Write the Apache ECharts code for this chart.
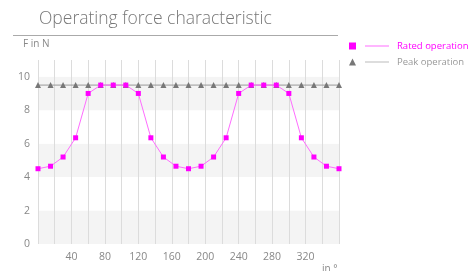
<!DOCTYPE html>
<html>
<head>
<meta charset="utf-8">
<script src="https://cdn.jsdelivr.net/npm/echarts@6/dist/echarts.min.js"></script>
<style>
  html, body { margin: 0; padding: 0; background: #fff; }
  #chart { width: 472px; height: 271px; }
</style>
</head>
<body>
<div id="chart"></div>
<script>
// angle in degrees, every 15
var angles = [0, 15, 30, 45, 60, 75, 90, 105, 120, 135, 150, 165, 180,
  195, 210, 225, 240, 255, 270, 285, 300, 315, 330, 345, 360];
var rated = [4.5, 4.65, 5.2, 6.35, 9.0, 9.5, 9.5, 9.5, 9.0, 6.35, 5.2, 4.65, 4.5,
  4.65, 5.2, 6.35, 9.0, 9.5, 9.5, 9.5, 9.0, 6.35, 5.2, 4.65, 4.5];
var peak = [9.5, 9.5, 9.5, 9.5, 9.5, 9.5, 9.5, 9.5, 9.5, 9.5, 9.5, 9.5, 9.5,
  9.5, 9.5, 9.5, 9.5, 9.5, 9.5, 9.5, 9.5, 9.5, 9.5, 9.5, 9.5];
var seriesNames = ["Rated operation", "Peak operation"];

var font = "'Open Sans', sans-serif";
var magenta = "#ff00ff";

function pairs(vals) {
  return angles.map(function (a, i) { return [a, vals[i]]; });
}

var chart = echarts.init(document.getElementById("chart"));
chart.setOption({
  animation: false,
  textStyle: { fontFamily: font },
  grid: { left: 38, right: 133, top: 60, bottom: 27 },
  xAxis: {
    type: "value",
    min: 0,
    max: 360,
    interval: 20,
    axisLine: { show: false },
    axisTick: { show: false },
    axisLabel: {
      color: "#888",
      fontSize: 10.5,
      margin: 8,
      formatter: function (v) {
        return v % 40 === 0 && v > 0 && v < 360 ? String(v) : "";
      }
    },
    splitLine: { show: true, lineStyle: { color: "#dcdcdc", width: 1 } }
  },
  yAxis: {
    type: "value",
    min: 0,
    max: 11,
    interval: 2,
    axisLine: { show: false },
    axisTick: { show: false },
    axisLabel: { color: "#888", fontSize: 10.5, margin: 8, showMaxLabel: false },
    splitLine: { show: false },
    splitArea: { show: true, areaStyle: { color: ["#f4f4f4", "#ffffff"] } }
  },
  legend: {
    left: 349,
    top: 40,
    padding: 0,
    orient: "vertical",
    itemGap: 4,
    itemWidth: 7,
    itemHeight: 7,
    data: [
      { name: seriesNames[0], icon: "rect" },
      { name: seriesNames[1], icon: "triangle" }
    ],
    formatter: function (name) {
      if (name === seriesNames[0]) return "{gap|}{lnA|}{gap2|}{tA|" + name + "}";
      return "{gap|}{lnB|}{gap2|}{tB|" + name + "}";
    },
    textStyle: {
      fontSize: 9.5,
      lineHeight: 12,
      rich: {
        gap: { width: 4 },
        gap2: { width: 8 },
        lnA: { width: 24, height: 1, backgroundColor: "#ff6cff" },
        lnB: { width: 24, height: 1, backgroundColor: "#bbb" },
        tA: { color: magenta, fontSize: 9.5, fontFamily: font },
        tB: { color: "#999", fontSize: 9.5, fontFamily: font }
      }
    }
  },
  graphic: [
    {
      type: "text", left: 39, top: 10,
      style: { text: "Operating force characteristic", fontSize: 17.5, fill: "#777", fontFamily: font, fontWeight: 300 }
    },
    {
      type: "line", shape: { x1: 13, y1: 35.5, x2: 338, y2: 35.5 },
      style: { stroke: "#aaa", lineWidth: 1 }
    },
    {
      type: "text", left: 23, top: 39,
      style: { text: "F in N", fontSize: 10, fill: "#888", fontFamily: font }
    },
    {
      type: "text", left: 322, top: 264,
      style: { text: "in °", fontSize: 10, fill: "#888", fontFamily: font }
    }
  ],
  series: [
    {
      name: seriesNames[1],
      type: "line",
      data: pairs(peak),
      symbol: "triangle",
      symbolSize: 6,
      itemStyle: { color: "#777" },
      lineStyle: { color: "#999", width: 1 },
      z: 2
    },
    {
      name: seriesNames[0],
      type: "line",
      data: pairs(rated),
      symbol: "rect",
      symbolSize: 5,
      itemStyle: { color: magenta },
      lineStyle: { color: "#ff6cff", width: 1 },
      z: 3
    }
  ]
});
</script>
</body>
</html>
